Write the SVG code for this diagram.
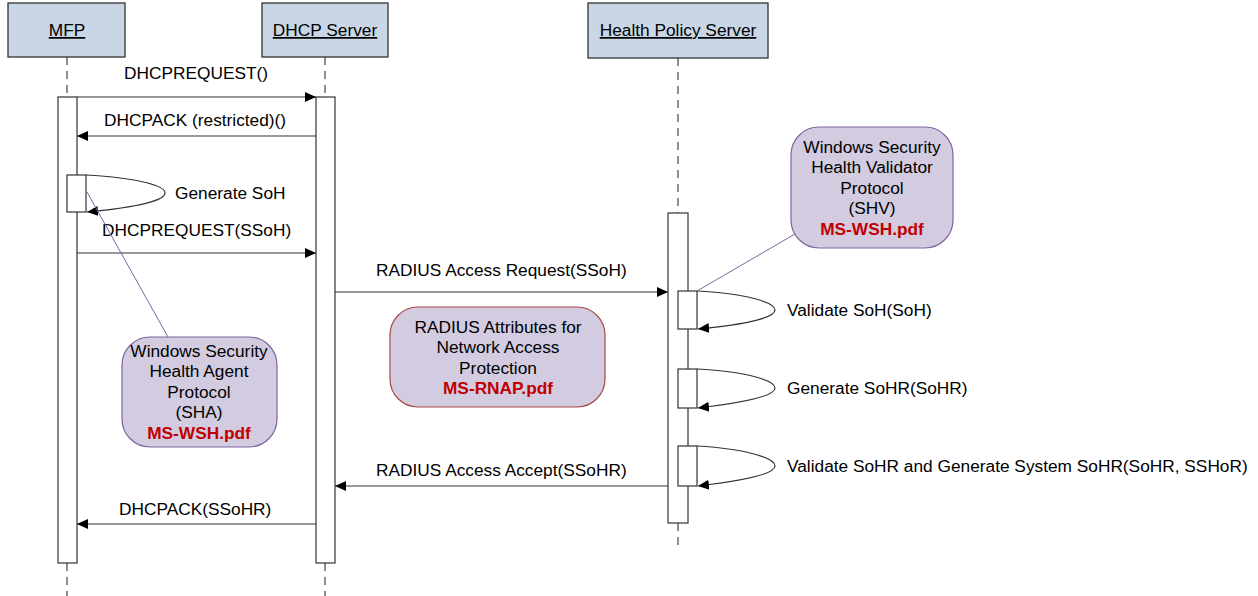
<svg xmlns="http://www.w3.org/2000/svg" width="1258" height="596" viewBox="0 0 1258 596">
<defs>
<marker id="arr" markerWidth="12" markerHeight="12" refX="11" refY="6" orient="auto" markerUnits="userSpaceOnUse">
<path d="M0,1 L11,6 L0,11 Z" fill="#000"/>
</marker>
<style>
text{font-family:"Liberation Sans",Arial,sans-serif;font-size:17.3px;fill:#000}
.hbox{fill:#C9D6E6;stroke:#333;stroke-width:1.3}
.htext{text-anchor:middle;text-decoration:underline}
.life{stroke:#444;stroke-width:1.2;stroke-dasharray:8,6;fill:none}
.act{fill:#fff;stroke:#333;stroke-width:1.2}
.msg{stroke:#333;stroke-width:1.2;fill:none;marker-end:url(#arr)}
.self{stroke:#333;stroke-width:1.2;fill:none;marker-end:url(#arr)}
.nbox{fill:#D3CCE0;stroke:#7E649E;stroke-width:1.2}
.ntext{text-anchor:middle}
.ref{fill:#C00000;font-weight:bold}
.link{stroke:#7E649E;stroke-width:1;fill:none}
</style>
</defs>
<rect width="1258" height="596" fill="#fff"/>

<g id="lifelines">
<line class="life" x1="67" y1="57" x2="67" y2="97"/>
<line class="life" x1="67" y1="563" x2="67" y2="596"/>
<line class="life" x1="325" y1="57" x2="325" y2="97"/>
<line class="life" x1="325" y1="563" x2="325" y2="596"/>
<line class="life" x1="678" y1="58" x2="678" y2="213"/>
<line class="life" x1="678" y1="523" x2="678" y2="548"/>
</g>

<g id="mfp">
<rect class="hbox" x="8" y="3" width="117" height="54"/>
<text class="htext" x="67" y="36">MFP</text>
<rect class="act" x="58" y="97" width="19" height="466"/>
<rect class="act" x="67" y="175" width="19" height="37"/>
</g>
<g id="dhcp">
<rect class="hbox" x="262" y="3" width="126" height="54"/>
<text class="htext" x="325" y="36">DHCP Server</text>
<rect class="act" x="316" y="97" width="19" height="466"/>
</g>
<g id="hps">
<rect class="hbox" x="588" y="3" width="180" height="55"/>
<text class="htext" x="678" y="36">Health Policy Server</text>
<rect class="act" x="668" y="213" width="20" height="310"/>
<rect class="act" x="678" y="291" width="19" height="38"/>
<rect class="act" x="678" y="369" width="19" height="39"/>
<rect class="act" x="678" y="446" width="19" height="40"/>
</g>

<g id="connectors">
<line class="msg" x1="77" y1="97" x2="316" y2="97"/>
<text x="124" y="79">DHCPREQUEST()</text>
<line class="msg" x1="316" y1="136" x2="77" y2="136"/>
<text x="104" y="126">DHCPACK (restricted)()</text>
<path class="self" d="M86,175 C140,178 165,186 165,193 C165,200 140,207 87,212"/>
<text x="175" y="199">Generate SoH</text>
<line class="msg" x1="77" y1="253" x2="316" y2="253"/>
<text x="102" y="236">DHCPREQUEST(SSoH)</text>
<line class="msg" x1="335" y1="292" x2="668" y2="292"/>
<text x="376" y="276">RADIUS Access Request(SSoH)</text>
<path class="self" d="M697,291 C750,294 775,303 775,310 C775,317 750,324 698,329"/>
<text x="787" y="316">Validate SoH(SoH)</text>
<path class="self" d="M697,369 C750,372 775,381 775,388 C775,395 750,402 698,408"/>
<text x="787" y="394">Generate SoHR(SoHR)</text>
<path class="self" d="M697,446 C750,449 775,459 775,466 C775,473 750,480 698,486"/>
<text x="787" y="472">Validate SoHR and Generate System SoHR(SoHR, SSHoR)</text>
<line class="msg" x1="668" y1="486" x2="335" y2="486"/>
<text x="376" y="476">RADIUS Access Accept(SSoHR)</text>
<line class="msg" x1="316" y1="524" x2="77" y2="524"/>
<text x="119" y="515">DHCPACK(SSoHR)</text>
<line class="link" x1="87" y1="192" x2="168" y2="337"/>
<line class="link" x1="697" y1="291" x2="795" y2="234"/>
</g>

<g id="note-sha">
<rect class="nbox" x="122" y="337" width="155" height="110" rx="28" ry="28"/>
<text class="ntext" x="199" y="357">Windows Security</text>
<text class="ntext" x="199" y="377">Health Agent</text>
<text class="ntext" x="199" y="398">Protocol</text>
<text class="ntext" x="199" y="418">(SHA)</text>
<text class="ntext ref" x="199" y="439">MS-WSH.pdf</text>
</g>

<g id="note-rnap">
<rect class="nbox" x="390" y="307" width="215" height="100" rx="28" ry="28" style="stroke:#A84848"/>
<text class="ntext" x="498" y="333">RADIUS Attributes for</text>
<text class="ntext" x="498" y="353">Network Access</text>
<text class="ntext" x="498" y="374">Protection</text>
<text class="ntext ref" x="498" y="394">MS-RNAP.pdf</text>
</g>

<g id="note-shv">
<rect class="nbox" x="791" y="127" width="162" height="121" rx="28" ry="28"/>
<text class="ntext" x="872" y="153">Windows Security</text>
<text class="ntext" x="872" y="173">Health Validator</text>
<text class="ntext" x="872" y="194">Protocol</text>
<text class="ntext" x="872" y="214">(SHV)</text>
<text class="ntext ref" x="872" y="235">MS-WSH.pdf</text>
</g>
</svg>
